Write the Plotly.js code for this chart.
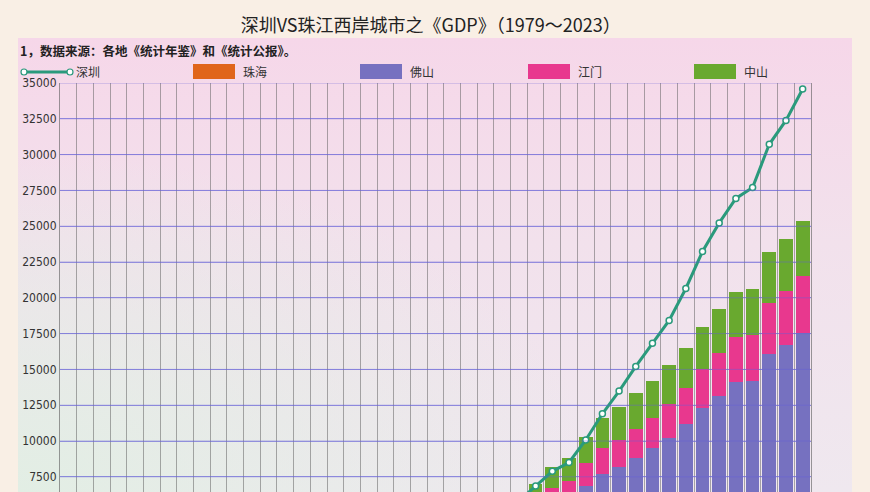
<!DOCTYPE html>
<html>
<head>
<meta charset="utf-8">
<script src="https://cdn.plot.ly/plotly-3.0.1.min.js"></script>
<style>
  body { margin: 0; background: #f9efe5; }
  #panel { position: absolute; left: 18px; top: 38px; width: 834px; height: 454px;
           background:
             radial-gradient(ellipse 70% 75% at 0% 100%, rgba(226,238,228,1) 0%, rgba(226,238,228,0) 100%),
             linear-gradient(to bottom, #f6d7e9 0%, #f2e1ec 45%, #efe8ef 100%); }
  #chart { position: absolute; left: 0; top: 0; width: 870px; height: 492px; }
</style>
</head>
<body>
<div id="panel"></div>
<div id="chart"></div>
<script>
// 年份
const years = [1979, 1980, 1981, 1982, 1983, 1984, 1985, 1986, 1987, 1988,
  1989, 1990, 1991, 1992, 1993, 1994, 1995, 1996, 1997, 1998,
  1999, 2000, 2001, 2002, 2003, 2004, 2005, 2006, 2007, 2008,
  2009, 2010, 2011, 2012, 2013, 2014, 2015, 2016, 2017, 2018,
  2019, 2020, 2021, 2022, 2023];

// GDP（亿元）
const shenzhen = [1.96, 2.70, 4.96, 8.26, 13.12, 23.42, 39.02, 41.65, 55.90, 86.98,
  115.66, 171.67, 236.66, 317.32, 453.14, 634.67, 842.48, 1048.44, 1297.42, 1534.73,
  1804.02, 2187.45, 2482.49, 2969.52, 3585.72, 4282.14, 4950.91, 5813.56, 6850, 7880,
  8500, 10070, 11900, 13490, 15210, 16820, 18420, 20650, 23240, 25230,
  26940, 27700, 30720, 32390, 34580];
const zhuhai = [2.09, 2.61, 3.2, 4.1, 5.6, 9.2, 15.9, 20, 23.8, 35.6,
  45, 62.1, 85.6, 120, 170, 227, 271, 296, 322, 340,
  360, 376, 409, 463, 546, 637, 635, 750, 895, 992,
  1038, 1209, 1403, 1503, 1662, 1867, 2025, 2226, 2675, 2915,
  3436, 3482, 3882, 4045, 4233];
const foshan = [13.4, 15.7, 18.2, 21, 24, 30.4, 40.1, 47.4, 62, 88.7,
  107, 123, 152, 224, 320, 440, 560, 650, 730, 800,
  870, 1050, 1140, 1250, 1480, 1930, 2380, 2927, 3660, 4380,
  4821, 5670, 6293, 6703, 7130, 7624, 8206, 8941, 9609, 10228,
  10664, 10709, 12194, 12660, 13288];
const jiangmen = [9.6, 11.2, 12.5, 14, 15.6, 19.5, 25, 29, 36, 50,
  62, 72, 86, 121, 177, 246, 310, 360, 400, 430,
  460, 520, 560, 610, 680, 760, 860, 1000, 1180, 1347,
  1370, 1606, 1836, 1864, 2046, 2137, 2353, 2514, 2745, 3024,
  3184, 3212, 3582, 3770, 4002];
const zhongshan = [3.5, 4, 4.7, 5.5, 6.5, 8.6, 12.3, 15, 20, 28,
  35, 42, 53, 74, 104, 150, 190, 220, 250, 280,
  300, 345, 390, 450, 530, 620, 750, 900, 1263, 1445,
  1564, 1815, 2096, 2326, 2494, 2563, 2703, 2793, 2953, 3030,
  3142, 3212, 3541, 3611, 3840];

const barNames = ['珠海', '佛山', '江门', '中山'];
const barSeries = [zhuhai, foshan, jiangmen, zhongshan];
const barColors = ['#e0651b', '#7671c0', '#e8388e', '#69a92f'];
const lineColor = '#2a9a7c';
const yTicks = [7500, 10000, 12500, 15000, 17500, 20000, 22500, 25000, 27500, 30000, 32500, 35000];

const W = 870, H = 492, L = 60, R = 811, T = 83;
function px(x) { return (x - L) / (R - L); }
function py(y) { return (H - y) / (H - T); }

var traces = [];
for (let i = 0; i < barSeries.length; i++) {
  traces.push({
    x: years,
    y: barSeries[i],
    type: 'bar',
    name: barNames[i],
    marker: { color: barColors[i] },
    showlegend: false
  });
}
traces.push({
  x: years,
  y: shenzhen,
  type: 'scatter',
  mode: 'lines+markers',
  name: '深圳',
  line: { color: lineColor, width: 3 },
  marker: { size: 6, color: '#ffffff', line: { color: lineColor, width: 1.5 } },
  showlegend: false
});

var shapes = [];
var annotations = [];

// 横向网格线压在柱子上方
yTicks.forEach(function (v) {
  shapes.push({ type: 'line', xref: 'paper', yref: 'y', layer: 'above',
    x0: 0, x1: 1, y0: v, y1: v,
    line: { color: 'rgba(100,95,215,0.45)', width: 1 } });
});

// 手绘图例
shapes.push({ type: 'line', xref: 'paper', yref: 'paper',
  x0: px(24), x1: px(70), y0: py(72), y1: py(72),
  line: { color: lineColor, width: 3 } });
[24, 70].forEach(function (cx) {
  shapes.push({ type: 'circle', xref: 'paper', yref: 'paper',
    x0: px(cx - 3), x1: px(cx + 3), y0: py(75), y1: py(69),
    fillcolor: '#ffffff', line: { color: lineColor, width: 1.2 } });
});
annotations.push({ xref: 'paper', yref: 'paper', x: px(74), y: py(71),
  xanchor: 'left', yanchor: 'middle', showarrow: false, text: '深圳',
  font: { size: 12, color: '#333', family: 'Noto Sans CJK SC' } });
const swatchX = [193, 360, 528, 694];
for (let i = 0; i < barNames.length; i++) {
  shapes.push({ type: 'rect', xref: 'paper', yref: 'paper',
    x0: px(swatchX[i]), x1: px(swatchX[i] + 42), y0: py(79), y1: py(64),
    fillcolor: barColors[i], line: { width: 0 } });
  annotations.push({ xref: 'paper', yref: 'paper', x: px(swatchX[i] + 48), y: py(71),
    xanchor: 'left', yanchor: 'middle', showarrow: false, text: barNames[i],
    font: { size: 12, color: '#333', family: 'Noto Sans CJK SC' } });
}
annotations.push({ xref: 'paper', yref: 'paper', x: px(18), y: py(50),
  xanchor: 'left', yanchor: 'middle', showarrow: false,
  text: '<b>1，数据来源：各地《统计年鉴》和《统计公报》。</b>',
  font: { size: 12.5, color: '#222', family: 'Noto Sans CJK SC' } });

var layout = {
  width: W,
  height: H,
  margin: { l: L, r: W - R, t: T, b: 0 },
  paper_bgcolor: 'rgba(0,0,0,0)',
  plot_bgcolor: 'rgba(0,0,0,0)',
  barmode: 'stack',
  bargap: 0.18,
  title: {
    text: '深圳VS珠江西岸城市之《GDP》（1979～2023）',
    xref: 'container', yref: 'container', x: 0.495, y: 1 - 26 / H,
    xanchor: 'center', yanchor: 'middle',
    font: { size: 18, color: '#222', family: 'Noto Sans CJK SC' }
  },
  xaxis: {
    type: 'linear',
    range: [1978.5, 2023.5],
    tick0: 1978.5,
    dtick: 1,
    showgrid: true,
    gridcolor: 'rgba(90,90,90,0.5)',
    gridwidth: 1,
    showticklabels: false,
    zeroline: false,
    fixedrange: true
  },
  yaxis: {
    range: [35000 - (H - T) * 2500 / 35.8, 35000],
    tickvals: yTicks,
    ticktext: yTicks.map(String),
    showgrid: true,
    gridcolor: 'rgba(110,105,215,0.6)',
    gridwidth: 1,
    showline: true,
    mirror: true,
    linecolor: 'rgba(90,90,90,0.6)',
    linewidth: 1,
    zeroline: false,
    ticks: '',
    tickfont: { size: 12, color: '#333', family: 'Liberation Sans Narrow, DejaVu Sans Condensed, Arial Narrow, sans-serif' },
    fixedrange: true
  },
  shapes: shapes,
  annotations: annotations,
  showlegend: false,
  font: { family: 'Noto Sans CJK SC' }
};

Plotly.newPlot('chart', traces, layout, { displayModeBar: false, staticPlot: true });
</script>
</body>
</html>
